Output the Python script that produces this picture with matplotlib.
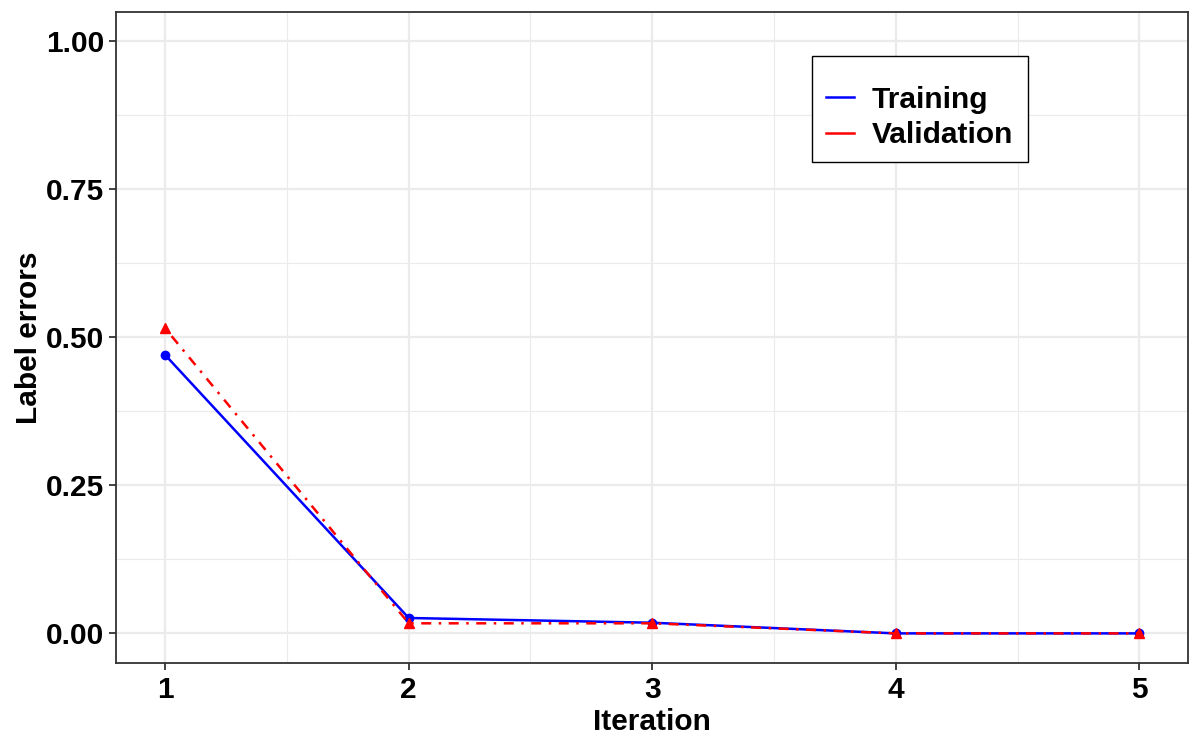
import matplotlib
matplotlib.use("Agg")
import matplotlib.pyplot as plt
from matplotlib.ticker import MultipleLocator, FixedLocator
from matplotlib.lines import Line2D
from matplotlib.patches import Rectangle

iterations = [1, 2, 3, 4, 5]
training = [0.470, 0.026, 0.018, 0.0, 0.0]
validation = [0.515, 0.017, 0.017, 0.0, 0.0]
y_ticks = [0.00, 0.25, 0.50, 0.75, 1.00]
y_tick_labels = ["0.00", "0.25", "0.50", "0.75", "1.00"]

plt.rcParams['font.family'] = ['Liberation Sans', 'DejaVu Sans']
plt.rcParams['font.weight'] = 'bold'

FS = 21.5
W, H = 1200, 750

fig = plt.figure(figsize=(12, 7.5), dpi=100)
ax = fig.add_axes([116.5/W, 1-663/H, (1188-116.5)/W, (663-11.5)/H])

ax.set_xlim(0.8, 5.2)
ax.set_ylim(-0.05, 1.05)

ax.xaxis.set_major_locator(FixedLocator(iterations))
ax.xaxis.set_minor_locator(MultipleLocator(0.5))
ax.yaxis.set_major_locator(FixedLocator(y_ticks))
ax.yaxis.set_minor_locator(MultipleLocator(0.125))
ax.set_yticklabels(y_tick_labels)
ax.set_xticklabels([str(i) for i in iterations])

ax.grid(which='major', color='#ebebeb', linewidth=1.6, zorder=0)
ax.grid(which='minor', color='#ebebeb', linewidth=0.8, zorder=0)
ax.set_axisbelow(True)

ax.plot(iterations, training, color='#0000ff', linewidth=1.8, linestyle='-',
        marker='o', markersize=6, zorder=3)
ax.plot(iterations, validation, color='#ff0000', linewidth=1.8,
        linestyle=(0, (1, 3, 4, 3)), marker='^', markersize=7.5, zorder=3)

for s in ax.spines.values():
    s.set_color('#333333')
    s.set_linewidth(1.3)

ax.tick_params(axis='both', which='major', length=5, width=1.3, color='#333333',
               labelsize=FS, labelcolor='black', pad=4)
ax.tick_params(axis='both', which='minor', length=0)
for lbl in ax.get_xticklabels() + ax.get_yticklabels():
    lbl.set_fontweight('bold')

ax.set_xlabel("Iteration", fontsize=FS, fontweight='bold', labelpad=3)
ax.set_ylabel("Label errors", fontsize=FS, fontweight='bold', labelpad=2)

# legend box
fig.patches.append(Rectangle((812/W, 1-162/H), (1028-812)/W, (162-56)/H,
                             transform=fig.transFigure, facecolor='white',
                             edgecolor='black', linewidth=1.0, zorder=5))

handles = [Line2D([], [], color='#0000ff', linewidth=1.8),
           Line2D([], [], color='#ff0000', linewidth=1.8)]
leg = fig.legend(handles, ["Training", "Validation"], loc='center left',
                 bbox_to_anchor=(826/W, 1-117.5/H), frameon=False,
                 prop={'size': FS, 'weight': 'bold'}, handlelength=0.95,
                 handletextpad=0.57, borderpad=0, labelspacing=0.26,
                 borderaxespad=0)
leg.set_zorder(6)

fig.savefig("out.png", dpi=100)
